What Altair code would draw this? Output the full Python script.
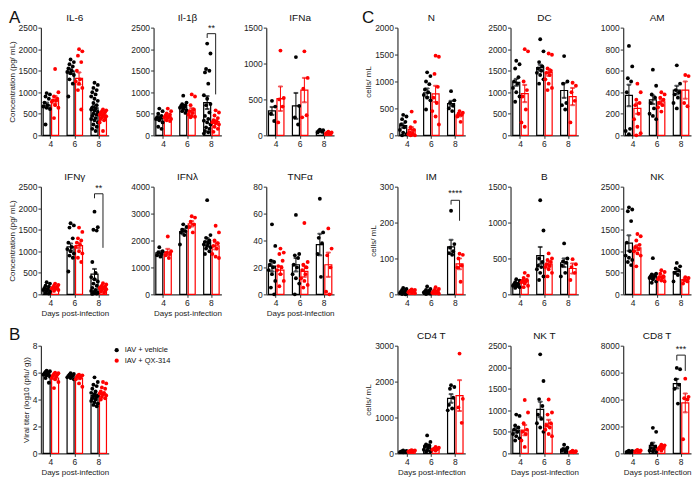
import altair as alt
import pandas as pd

FONT = "Liberation Sans"
DAYS = ["4", "6", "8"]
SERIES = ["IAV + vehicle", "IAV + QX-314"]
COLORS = ["#000000", "#ff0000"]

# ---------------- Panel A : cytokines ----------------
IL6_VEH = [[980, 950, 900, 850, 760, 700, 670, 640, 610, 250],
           [1760, 1700, 1650, 1600, 1550, 1500, 1470, 1440, 1400, 1300, 1200, 900],
           [1220, 1170, 1100, 1050, 1000, 950, 900, 850, 800, 750, 700, 650, 620, 600,
            570, 540, 500, 480, 450, 400, 380, 350, 300, 250, 200, 150, 100]]
IL6_QX = [[1540, 1000, 900, 850, 810, 800, 780, 700, 640, 400],
          [2000, 1950, 1850, 1700, 1500, 1300, 1250, 1200, 1100, 1050, 600],
          [600, 580, 560, 540, 520, 500, 480, 460, 440, 420, 400, 380, 350, 300, 100]]
IL6_MEAN = [[700, 1490, 640], [820, 1320, 470]]
IL6_SEM = [[60, 60, 55], [90, 140, 30]]

IL1B_VEH = [[620, 560, 500, 450, 420, 400, 380, 350, 300, 200, 150],
            [920, 760, 720, 700, 680, 660, 640, 610, 580, 560, 520],
            [2130, 1900, 1540, 1500, 1460, 1200, 930, 850, 725, 700, 530, 450, 380, 340,
             300, 250, 185, 150, 100, 70, 40]]
IL1B_QX = [[620, 560, 510, 480, 460, 440, 420, 400, 380, 350, 330],
           [950, 900, 700, 600, 560, 520, 480, 450, 430, 420],
           [580, 530, 460, 400, 350, 320, 300, 280, 250, 200, 150, 80]]
IL1B_MEAN = [[400, 660, 760], [430, 570, 320]]
IL1B_SEM = [[45, 30, 150], [25, 60, 40]]

IFNA_VEH = [[480, 400, 300, 200], [1090, 410, 250, 150], [80, 70, 60, 50, 40]]
IFNA_QX = [[1180, 520, 500, 400, 180], [1170, 800, 650, 280, 250], [50, 40, 35, 30, 25, 20]]
IFNA_MEAN = [[340, 410, 60], [510, 630, 35]]
IFNA_SEM = [[55, 180, 8], [170, 170, 5]]

IFNG_VEH = [[280, 250, 200, 180, 150, 120, 100, 80, 60, 40, 20],
            [1650, 1600, 1550, 1300, 1200, 1100, 1050, 1000, 950, 900, 850, 530],
            [1920, 1560, 1500, 1480, 750, 500, 400, 350, 300, 250, 200, 150, 100, 80,
             60, 40, 30, 20, 10]]
IFNG_QX = [[250, 220, 200, 180, 160, 150, 140, 120, 100, 80],
           [1550, 1450, 1300, 1250, 1200, 1150, 1100, 1000, 950, 850, 750],
           [260, 230, 200, 180, 170, 160, 150, 140, 120, 100, 80, 60, 40]]
IFNG_MEAN = [[130, 1100, 470], [150, 1130, 150]]
IFNG_SEM = [[25, 80, 120], [15, 60, 20]]

IFNL_VEH = [[1750, 1600, 1550, 1500, 1450, 1400],
            [2600, 2500, 2400, 2350, 2300, 2200, 1850],
            [3500, 2200, 2100, 2000, 1950, 1900, 1850, 1800, 1750, 1700, 1600, 1500]]
IFNL_QX = [[2150, 1600, 1550, 1500, 1450, 1350],
           [2900, 2850, 2700, 2600, 2500, 2300],
           [2550, 2300, 2000, 1900, 1800, 1700, 1500, 1400, 1350]]
IFNL_MEAN = [[1540, 2330, 1950], [1570, 2620, 1800]]
IFNL_SEM = [[60, 100, 140], [120, 100, 130]]

TNF_VEH = [[52, 36, 25, 24, 22, 20, 18, 15, 10, 5, 0],
           [59, 30, 29, 27, 22, 20, 15, 12, 8, 0],
           [71, 46, 42, 38, 30, 13]]
TNF_QX = [[34, 31, 30, 25, 21, 20, 18, 15, 10, 6],
          [53, 24, 22, 20, 18, 15, 12, 10, 7, 5],
          [49, 34, 29, 20, 2, 0]]
TNF_MEAN = [[21, 22, 37], [18, 17, 22]]
TNF_SEM = [[4, 5, 8], [3, 4, 9]]

# ---------------- Panel B : viral titer ----------------
VIR_VEH = [[6.15, 6.1, 6.05, 6.0, 5.95, 5.9, 5.85, 5.8, 5.7, 5.6, 5.25],
           [5.95, 5.9, 5.85, 5.8, 5.75, 5.7, 5.65, 5.6, 5.5],
           [5.65, 5.3, 5.1, 5.0, 4.8, 4.6, 4.5, 4.4, 4.3, 4.25, 4.2, 4.1, 4.0, 3.9, 3.8,
            3.7, 3.6, 3.5]]
VIR_QX = [[6.0, 5.95, 5.9, 5.85, 5.8, 5.7, 5.6, 5.5, 5.3, 4.85],
          [5.85, 5.8, 5.8, 5.75, 5.7, 5.6, 5.5, 5.2, 4.95],
          [5.3, 5.2, 4.9, 4.8, 4.6, 4.5, 4.45, 4.4, 4.3, 4.2, 4.1, 4.0]]
VIR_MEAN = [[5.85, 5.7, 4.3], [5.6, 5.6, 4.4]]
VIR_SEM = [[0.08, 0.04, 0.12], [0.1, 0.09, 0.08]]

# ---------------- Panel C : cells ----------------
N_VEH = [[380, 350, 300, 250, 200, 150, 100, 50, 20, 0],
         [1170, 1100, 1000, 950, 850, 800, 750, 700, 650, 480],
         [820, 650, 600, 550, 500, 450]]
N_QX = [[440, 250, 150, 100, 60, 40, 20, 10, 0, 0],
        [1480, 1460, 1140, 900, 700, 600, 450, 350, 200],
        [450, 420, 400, 380, 350, 250]]
N_MEAN = [[180, 790, 590], [110, 770, 380]]
N_SEM = [[40, 80, 50], [40, 150, 30]]

DC_VEH = [[1730, 1650, 1550, 1350, 1250, 1200, 1100, 1000, 900, 780],
          [2230, 1950, 1700, 1600, 1550, 1500, 1450, 1400, 1300, 1200],
          [1840, 1250, 1200, 750, 700, 600]]
DC_QX = [[2000, 1950, 1250, 1050, 900, 600, 300, 200],
         [1900, 1870, 1550, 1500, 1450, 1400, 1300, 1200, 1100, 1050],
         [1220, 1150, 1000, 800, 300]]
DC_MEAN = [[1230, 1570, 1040], [970, 1460, 900]]
DC_SEM = [[80, 70, 170], [200, 80, 200]]

AM_VEH = [[830, 640, 530, 500, 400, 60, 40, 10],
          [610, 460, 380, 350, 300, 250, 200, 180, 150],
          [650, 480, 420, 400, 380, 350, 300, 250]]
AM_QX = [[480, 400, 330, 300, 280, 200, 150, 80, 20, 0],
         [400, 380, 350, 330, 300, 280, 260, 220],
         [560, 550, 300, 270]]
AM_MEAN = [[370, 330, 420], [250, 310, 420]]
AM_SEM = [[100, 40, 40], [50, 20, 80]]

IM_VEH = [[18, 15, 12, 10, 8, 6, 4, 3, 2, 1, 0],
          [22, 15, 12, 10, 8, 6, 5, 3, 2, 1],
          [233, 140, 130, 120, 115, 110]]
IM_QX = [[14, 12, 11, 10, 9, 8, 6, 5, 3],
         [20, 15, 12, 10, 8, 6, 4, 3, 2],
         [113, 110, 100, 80, 75, 35]]
IM_MEAN = [[7, 8, 132], [8, 8, 85]]
IM_SEM = [[1.5, 2, 20], [1, 2, 15]]

BC_VEH = [[210, 190, 170, 150, 140, 130, 120, 110, 100, 90],
          [1310, 890, 500, 450, 400, 380, 350, 300, 250, 200],
          [710, 500, 460, 440, 400, 300, 250]]
BC_QX = [[300, 260, 230, 200, 190, 180, 170, 150, 120, 100],
         [570, 500, 480, 450, 420, 400, 380, 350, 300, 250],
         [490, 420, 380, 300, 200]]
BC_MEAN = [[140, 540, 440], [190, 420, 360]]
BC_SEM = [[15, 120, 60], [20, 40, 70]]

NK_VEH = [[2020, 1970, 1930, 1700, 1200, 1000, 900, 850, 800, 750, 680],
          [840, 480, 460, 440, 420, 400, 380, 350, 300, 270],
          [730, 650, 600, 550, 500, 450, 300]]
NK_QX = [[1400, 1350, 1250, 1150, 1100, 1050, 1000, 950, 900, 650],
         [560, 520, 480, 420, 400, 380, 350, 320, 300],
         [400, 380, 330, 300, 250]]
NK_MEAN = [[1190, 420, 530], [1080, 400, 340]]
NK_SEM = [[180, 45, 60], [60, 30, 40]]

CD4_VEH = [[80, 70, 60, 50, 45, 40, 35, 30],
           [500, 320, 250, 220, 200, 150, 100, 80, 60, 40],
           [1900, 1850, 1800, 1550, 1350, 1250, 1200]]
CD4_QX = [[90, 80, 75, 70, 60, 55, 50, 40],
          [180, 160, 140, 130, 120, 110, 100, 80],
          [2780, 1520, 1280, 850]]
CD4_MEAN = [[50, 200, 1530], [60, 120, 1610]]
CD4_SEM = [[5, 45, 120], [5, 15, 430]]

NKT_VEH = [[900, 870, 650, 600, 550, 500, 450, 400, 350, 300],
           [2300, 1680, 1260, 1100, 900, 800, 700, 600, 500],
           [200, 130, 100, 80, 60, 40]]
NKT_QX = [[1240, 950, 700, 550, 500, 450, 300, 150],
          [1250, 950, 900, 700, 650, 600, 550, 450, 400],
          [60, 50, 40, 35, 30, 25]]
NKT_MEAN = [[540, 1020, 100], [540, 700, 40]]
NKT_SEM = [[60, 180, 20], [120, 80, 5]]

CD8_VEH = [[200, 180, 150, 120, 100, 80],
           [1900, 1600, 700, 500, 400, 300, 200, 150, 100],
           [6350, 6250, 5500, 5100, 4800, 3700]]
CD8_QX = [[260, 220, 200, 180, 150, 100],
          [650, 600, 500, 450, 400, 350, 300, 200],
          [5550, 4200, 4100, 4000, 1050]]
CD8_MEAN = [[130, 600, 5180], [180, 420, 3750]]
CD8_SEM = [[20, 200, 350], [20, 60, 700]]

# significance brackets (day 8): left leg end, top, right leg end, label y, label
SIG_PANELS = ["Il-1β", "IFNγ", "IM", "CD8 T"]
SIG_LEFT = [2260, 2230, 250, 6900]
SIG_TOP = [2360, 2335, 262, 7300]
SIG_RIGHT = [950, 1080, 205, 6130]
SIG_LABEL_Y = [2490, 2460, 283, 7750]
SIG_LABELS = ["**", "**", "****", "***"]

Y_TITLE_A = "Concentration (pg/ mL)"
Y_TITLE_B = "Viral titer (log10 (pfu/ g))"
Y_TITLE_C = "cells/ mL"
X_TITLE = "Days post-infection"

# ---------------- layout / style constants ----------------
W, H = 68, 108
SHIFT = 18.6
BAND = 20
BASE = {SERIES[0]: 5.75, SERIES[1]: 14.25}
JIT = "((datum.k * 3) % 7 - 3) * 1.1"

STROKE_SCALE = alt.Scale(domain=SERIES, range=COLORS)
COLOR_SCALE = alt.Scale(domain=SERIES, range=COLORS)
XO_Q = alt.Scale(domain=[0, BAND], range=[0, BAND])
XO_N = alt.Scale(domain=SERIES, paddingInner=0.176, paddingOuter=0.265)


def panel(title, veh, qx, mean, sem, ymax, ystep, ytitle=None, xtitle=None,
          shift=0, letter=None, letter_xy=(0, 0), legend=False):
    rows = []
    for si, grp in enumerate([veh, qx]):
        for di, vals in enumerate(grp):
            for v in vals:
                rows.append({"day": DAYS[di], "series": SERIES[si], "value": v,
                             "base": BASE[SERIES[si]]})
    pts = pd.DataFrame(rows)
    summ = pd.DataFrame([{"day": DAYS[di], "series": SERIES[si],
                          "mean": mean[si][di],
                          "lo": mean[si][di] - sem[si][di],
                          "hi": mean[si][di] + sem[si][di],
                          "base": BASE[SERIES[si]]}
                         for si in range(2) for di in range(3)])

    xs = alt.Scale(domain=DAYS, range=[shift, shift + W], paddingInner=0.167,
                   paddingOuter=0)
    xaxis = alt.Axis(title=xtitle, labelAngle=0, titlePadding=3)
    X = alt.X("day:N", scale=xs, axis=xaxis)
    ys = alt.Scale(domain=[0, ymax], nice=False, zero=True)
    yaxis = alt.Axis(title=ytitle, values=list(range(0, int(ymax) + 1, int(ystep))),
                     offset=-shift, format="d")

    def Y(f):
        return alt.Y(f, scale=ys, axis=yaxis)

    stroke = alt.Stroke("series:N", scale=STROKE_SCALE, legend=None)

    bars = alt.Chart(summ).mark_bar(fill="white", strokeWidth=1.2).encode(
        x=X, y=alt.Y("mean:Q", scale=ys, axis=yaxis, stack=None),
        xOffset=alt.XOffset("series:N", scale=XO_N), stroke=stroke)
    err = alt.Chart(summ).mark_rule(strokeWidth=1).encode(
        x=X, y=Y("lo:Q"), y2="hi:Q",
        xOffset=alt.XOffset("base:Q", scale=XO_Q), stroke=stroke)
    caps = alt.Chart(summ).transform_fold(["lo", "hi"], as_=["end", "ev"]).mark_tick(
        size=4, thickness=1).encode(
        x=X, y=Y("ev:Q"), xOffset=alt.XOffset("base:Q", scale=XO_Q), stroke=stroke)
    dots = alt.Chart(pts).transform_window(
        window=[alt.WindowFieldDef(op="row_number", **{"as": "k"})],
        groupby=["day", "series"]).transform_calculate(
        xo=f"datum.base + {JIT}").mark_circle(size=15, opacity=1).encode(
        x=X, y=Y("value:Q"), xOffset=alt.XOffset("xo:Q", scale=XO_Q),
        color=alt.Color("series:N", scale=COLOR_SCALE, legend=None))
    layers = [bars, err, caps, dots]

    if title:
        layers.append(alt.Chart(pd.DataFrame({"t": [title]})).mark_text(
            align="center", baseline="bottom", fontSize=10, color="#111").encode(
            x=alt.value(shift + W / 2), y=alt.value(-5), text="t:N"))

    if title in SIG_PANELS:
        i = SIG_PANELS.index(title)
        br = pd.DataFrame({"day": [DAYS[2]] * 4,
                           "series": [SERIES[0], SERIES[0], SERIES[1], SERIES[1]],
                           "y": [SIG_LEFT[i], SIG_TOP[i], SIG_TOP[i], SIG_RIGHT[i]],
                           "ord": [0, 1, 2, 3]})
        br["base"] = br["series"].map(BASE)
        layers.append(alt.Chart(br).mark_line(color="#222", strokeWidth=1).encode(
            x=X, y=Y("y:Q"), xOffset=alt.XOffset("base:Q", scale=XO_Q),
            order="ord:O"))
        lab = pd.DataFrame({"day": [DAYS[2]], "y": [SIG_LABEL_Y[i]],
                            "t": [SIG_LABELS[i]], "c": [BAND / 2]})
        layers.append(alt.Chart(lab).mark_text(fontSize=9, baseline="middle",
                                               color="#111").encode(
            x=X, y=Y("y:Q"), xOffset=alt.XOffset("c:Q", scale=XO_Q), text="t:N"))

    if letter:
        layers.append(alt.Chart(pd.DataFrame({"t": [letter]})).mark_text(
            align="left", baseline="top", fontSize=17, color="#111").encode(
            x=alt.value(letter_xy[0]), y=alt.value(letter_xy[1]), text="t:N"))

    if legend:
        for i, s in enumerate(SERIES):
            ld = pd.DataFrame({"series": [s]})
            layers.append(alt.Chart(ld).mark_circle(size=18, opacity=1).encode(
                x=alt.value(76), y=alt.value(4.5 + 10.5 * i),
                color=alt.value(COLORS[i])))
            layers.append(alt.Chart(ld).mark_text(
                align="left", baseline="middle", fontSize=7.5, color="#111").encode(
                x=alt.value(84), y=alt.value(4.5 + 10.5 * i), text="series:N"))

    return alt.layer(*layers).resolve_scale(xOffset="independent").properties(
        width=W + shift, height=H)


def blank():
    return alt.Chart(pd.DataFrame({"v": [0]})).mark_point(opacity=0).encode(
        x=alt.X("v:Q", axis=None), y=alt.Y("v:Q", axis=None)).properties(
        width=W, height=H)


cells = [
    panel("IL-6", IL6_VEH, IL6_QX, IL6_MEAN, IL6_SEM, 2500, 500, ytitle=Y_TITLE_A,
          letter="A", letter_xy=(-32, -18)),
    panel("Il-1β", IL1B_VEH, IL1B_QX, IL1B_MEAN, IL1B_SEM, 2500, 500),
    panel("IFNa", IFNA_VEH, IFNA_QX, IFNA_MEAN, IFNA_SEM, 1500, 500),
    panel("N", N_VEH, N_QX, N_MEAN, N_SEM, 2000, 500, ytitle=Y_TITLE_C, shift=SHIFT,
          letter="C", letter_xy=(-17, -18)),
    panel("DC", DC_VEH, DC_QX, DC_MEAN, DC_SEM, 2500, 500),
    panel("AM", AM_VEH, AM_QX, AM_MEAN, AM_SEM, 1000, 200),

    panel("IFNγ", IFNG_VEH, IFNG_QX, IFNG_MEAN, IFNG_SEM, 2500, 500, ytitle=Y_TITLE_A,
          xtitle=X_TITLE),
    panel("IFNλ", IFNL_VEH, IFNL_QX, IFNL_MEAN, IFNL_SEM, 4000, 1000, xtitle=X_TITLE),
    panel("TNFα", TNF_VEH, TNF_QX, TNF_MEAN, TNF_SEM, 80, 20, xtitle=X_TITLE),
    panel("IM", IM_VEH, IM_QX, IM_MEAN, IM_SEM, 300, 100, ytitle=Y_TITLE_C, shift=SHIFT),
    panel("B", BC_VEH, BC_QX, BC_MEAN, BC_SEM, 1500, 500),
    panel("NK", NK_VEH, NK_QX, NK_MEAN, NK_SEM, 2500, 500),

    panel("", VIR_VEH, VIR_QX, VIR_MEAN, VIR_SEM, 8, 2, ytitle=Y_TITLE_B,
          xtitle=X_TITLE, letter="B", letter_xy=(-32, -19), legend=True),
    blank(),
    blank(),
    panel("CD4 T", CD4_VEH, CD4_QX, CD4_MEAN, CD4_SEM, 3000, 1000, ytitle=Y_TITLE_C,
          xtitle=X_TITLE, shift=SHIFT),
    panel("NK T", NKT_VEH, NKT_QX, NKT_MEAN, NKT_SEM, 2500, 500, xtitle=X_TITLE),
    panel("CD8 T", CD8_VEH, CD8_QX, CD8_MEAN, CD8_SEM, 8000, 2000, xtitle=X_TITLE),
]

chart = alt.concat(
    *cells, columns=6, bounds="flush", align="each",
    spacing=alt.RowColnumber(row=51.5, column=45.0), padding=0,
).configure_view(stroke=None).configure_axis(
    domainColor="#333", domainWidth=1.2, tickColor="#333", tickWidth=1, tickSize=3,
    labelFont=FONT, labelFontSize=8.5, labelColor="#222", labelPadding=1,
    titleFont=FONT, titleFontSize=8, titleFontWeight="normal", titleColor="#222",
    titlePadding=2, grid=False,
).configure_text(font=FONT)

chart.save("out.html", embed_options={"renderer": "svg", "actions": False})
